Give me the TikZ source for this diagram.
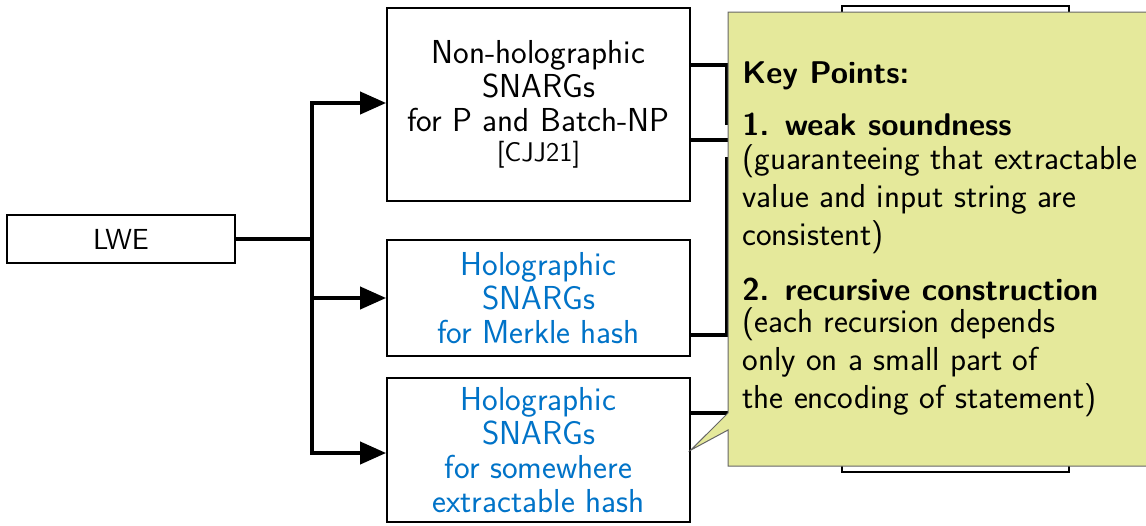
\documentclass[tikz,border=0pt]{standalone}
\usepackage{fontspec}
\usetikzlibrary{arrows.meta}
\definecolor{notefill}{RGB}{229,233,155}
\definecolor{holoblue}{RGB}{0,115,200}
\begin{document}
\begin{tikzpicture}[x=0.5pt,y=-0.5pt,
  box/.style={draw, line width=0.9pt, fill=white, inner sep=0pt, align=center,
    font=\sffamily\fontsize{16.6}{17}\selectfont},
  link/.style={line width=2pt},
  arr/.style={link, -{Triangle[length=13pt,width=11pt]}},
  notebox/.style={fill=notefill, draw=black!60, line width=0.5pt},
  note/.style={anchor=base west, inner sep=0pt, font=\sffamily\fontsize{16.6}{18}\selectfont},
  notehead/.style={note, font=\sffamily\bfseries\fontsize{15.7}{18}\selectfont}]
\useasboundingbox (0,0) rectangle (1146,525);

% hidden target box on the right
\node[box, minimum width=113.5pt, minimum height=233pt] (hid) at (955.5,239) {};

% source and the three constructions
\node[box, minimum width=114pt, minimum height=24pt, font=\sffamily\fontsize{14.5}{17}\selectfont] (lwe) at (121,239) {LWE};
\node[box, minimum width=151.5pt, minimum height=96.5pt] (b1) at (538.5,104.5)
  {Non-holographic\\SNARGs\\for P and Batch-NP\\[-2pt]{\fontsize{13.5}{15}\selectfont [CJJ21]}};
\node[box, minimum width=151.5pt, minimum height=58pt, text=holoblue] (b2) at (538.5,298)
  {Holographic\\SNARGs\\for Merkle hash};
\node[box, minimum width=151.5pt, minimum height=72pt, text=holoblue] (b3) at (538.5,450)
  {Holographic\\SNARGs\\for somewhere\\extractable hash};

% branching arrows out of LWE
\coordinate (split) at (312,239);
\draw[link] (lwe.east) -- (split);
\draw[arr] (split) |- (b1.west |- 0,103);
\draw[arr] (split) |- (b2.west);
\draw[arr] (split) |- (b3.west |- 0,453);

% links towards the right box
\coordinate (k1) at (727,65);
\coordinate (k1e) at (727,125);
\coordinate (k2) at (727,335);
\coordinate (k2e) at (727,157);
\draw[link] (b1.east |- k1) -- (k1) -- (k1e);
\draw[link] (b1.east |- 0,140) -- (hid.west |- 0,140);
\draw[link] (b2.east |- k2) -- (k2) -- (k2e);
\draw[link] (b3.east |- 0,413) -- (hid.west |- 0,413);

% callout with the key points
\draw[notebox] (728,12) -- (1152,12) -- (1152,466) -- (728,466) -- (728,430)
  -- (b3.east) -- (728,413) -- cycle;
\node[notehead] (t0) at (742,83) {Key Points:};
\node[notehead] (t1) at (742,135) {1.\enspace weak soundness};
\node[note] (t2) at (742,169) {(guaranteeing that extractable};
\node[note] (t3) at (742,207) {value and input string are};
\node[note] (t4) at (742,245) {consistent)};
\node[notehead] (t5) at (742,300) {2.\enspace recursive construction};
\node[note] (t6) at (742,332) {(each recursion depends};
\node[note] (t7) at (742,370) {only on a small part of};
\node[note] (t8) at (742,408) {the encoding of statement)};
\end{tikzpicture}
\end{document}
